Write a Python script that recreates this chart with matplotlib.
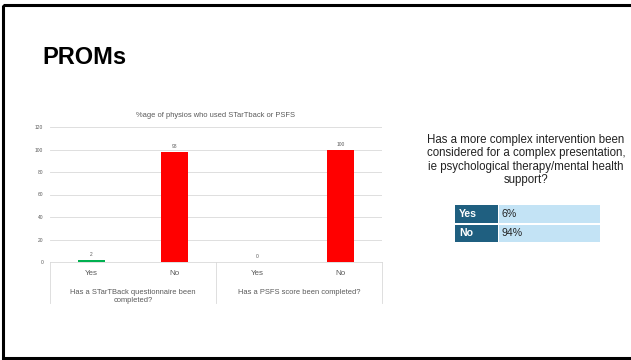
import matplotlib.pyplot as plt
from matplotlib.patches import Rectangle

# chart data
categories = ["Yes", "No", "Yes", "No"]
values = [2, 98, 0, 100]
bar_colors = ["#00B050", "#FF0000", "#00B050", "#FF0000"]
groups = ["Has a STarTBack questionnaire been\ncompleted?", "Has a PSFS score been completed?"]
yticks = [0, 20, 40, 60, 80, 100, 120]

# table data
table_labels = ["Yes", "No"]
table_values = ["6%", "94%"]

W, H = 631, 360
fig = plt.figure(figsize=(W / 100, H / 100), dpi=100)
plt.rcParams['font.family'] = ['Liberation Sans', 'DejaVu Sans']


def box(x0, y0, x1, y1):
    # pixel box (top-left origin) -> figure fraction rect
    return [x0 / W, 1 - y1 / H, (x1 - x0) / W, (y1 - y0) / H]


# slide border
bg = fig.add_axes([0, 0, 1, 1])
bg.set_xlim(0, W)
bg.set_ylim(H, 0)
bg.axis('off')
bg.add_patch(Rectangle((2.5, 4.5), W + 10, 353.5, fill=False, edgecolor='black', linewidth=2.2))
bg.text(42, 58, "PROMs", fontsize=17, fontweight='bold', va='center', ha='left')

# bar chart
ax = fig.add_axes(box(50, 127, 382, 262))
x = list(range(len(categories)))
ax.bar(x, values, width=0.32, color=bar_colors, zorder=3)
ax.set_xlim(-0.5, len(categories) - 0.5)
ax.set_ylim(0, 120)
ax.set_yticks(yticks)
ax.tick_params(axis='y', labelsize=3.5, labelcolor='#595959', length=0, pad=5)
ax.set_xticks([])
ax.grid(axis='y', color='#D9D9D9', linewidth=0.6, zorder=0)
for s in ['top', 'right', 'left']:
    ax.spines[s].set_visible(False)
ax.spines['bottom'].set_color('#D9D9D9')
ax.spines['bottom'].set_linewidth(0.6)
ax.set_title("%age of physios who used STarTback or PSFS", fontsize=5.4, color='#595959', pad=7)

for i, v in enumerate(values):
    ax.text(i, v + 2.5, str(v), ha='center', va='bottom', fontsize=3.5, color='#595959')

tr = ax.get_xaxis_transform()
for i, c in enumerate(categories):
    ax.text(i, -0.085, c, transform=tr, ha='center', va='center', fontsize=5.8, color='#595959')
for g, name in enumerate(groups):
    ax.text(2 * g + 0.5, -0.2, name, transform=tr, ha='center', va='top', fontsize=5.4,
            color='#595959', linespacing=1.1)
for xs in [-0.5, 1.5, 3.5]:
    ax.plot([xs, xs], [0, -0.3], transform=tr, color='#D9D9D9', linewidth=0.6, clip_on=False)

# right-hand question text
bg.text(526, 160, "Has a more complex intervention been\nconsidered for a complex presentation,\n"
        "ie psychological therapy/mental health\nsupport?", ha='center', va='center',
        fontsize=8.3, color='#222222', linespacing=1.13)

# small table
rows_y = [(205, 223), (224.5, 242)]
for (y0, y1), lab, val in zip(rows_y, table_labels, table_values):
    bg.add_patch(Rectangle((455, y0), 43, y1 - y0, facecolor='#1F5F80', edgecolor='none'))
    bg.add_patch(Rectangle((499, y0), 101, y1 - y0, facecolor='#C3E3F5', edgecolor='none'))
    bg.text(459, (y0 + y1) / 2, lab, color='white', fontweight='bold', fontsize=7.6, va='center')
    bg.text(502, (y0 + y1) / 2, val, color='#222222', fontsize=7.6, va='center')

fig.savefig("out.png", dpi=100)
